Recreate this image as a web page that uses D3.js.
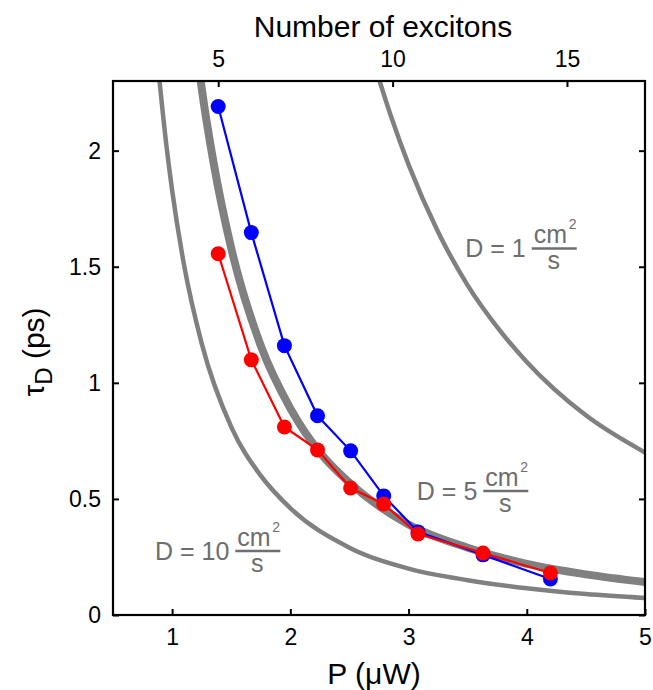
<!DOCTYPE html>
<html>
<head>
<meta charset="utf-8" />
<title>tau_D vs P</title>
<script src="https://d3js.org/d3.v7.min.js"></script>
<style>
  body { margin: 0; background: #fff; }
  svg text { font-family: "Liberation Sans", Arial, Helvetica, sans-serif; }
</style>
</head>
<body>
<script type="text/javascript">
// measured points (P in uW, tau_D in ps)
var powerP = [1.39, 1.67, 1.95, 2.23, 2.51, 2.79, 3.08, 3.63, 4.2];
var tauBlue = [2.19, 1.647, 1.16, 0.858, 0.707, 0.513, 0.358, 0.259, 0.155];
var tauRed = [1.556, 1.099, 0.81, 0.711, 0.547, 0.478, 0.349, 0.267, 0.181];

// gray diffusion curves
var curveP10 = [0.87, 0.95, 1.0, 1.1, 1.25, 1.5, 1.75, 2.0, 2.5, 3.0, 3.5, 4.0, 4.5, 5.0];
var curveT10 = [2.42, 2.03, 1.83, 1.51, 1.17, 0.81, 0.6, 0.46, 0.29, 0.2, 0.15, 0.115, 0.09, 0.073];
var curveP5 = [1.2, 1.25, 1.35, 1.5, 1.75, 2.0, 2.25, 2.5, 3.0, 3.5, 4.0, 4.5, 5.0];
var curveT5 = [2.47, 2.27, 1.95, 1.58, 1.16, 0.89, 0.7, 0.57, 0.39, 0.29, 0.22, 0.175, 0.142];
var curveP1 = [2.7, 2.85, 3.0, 3.25, 3.5, 3.75, 4.0, 4.5, 5.0];
var curveT1 = [2.39, 2.15, 1.94, 1.65, 1.42, 1.24, 1.09, 0.86, 0.7];

var xTicks = [1, 2, 3, 4, 5];
var yTicks = [0, 0.5, 1, 1.5, 2];
var excitonTicks = [5, 10, 15];
var labelD = ['1', '5', '10'];

var width = 653, height = 690;
var mLeft = 113, mRight = 645, mTop = 81, mBottom = 615;
var gray = '#808080';

var svg = d3.select('body').append('svg')
    .attr('width', width)
    .attr('height', height);

var x = d3.scaleLinear().domain([0.5, 5]).range([mLeft, mRight]);
var y = d3.scaleLinear().domain([0, 2.3]).range([mBottom, mTop]);
// number of excitons mapped onto the P axis
var xTop = d3.scaleLinear().domain([5, 15]).range([x(1.39), x(4.34)]);

svg.append('clipPath').attr('id', 'plot')
    .append('rect')
    .attr('x', mLeft).attr('y', mTop)
    .attr('width', mRight - mLeft).attr('height', mBottom - mTop);

var g = svg.append('g').attr('clip-path', 'url(#plot)');

var line = d3.line()
    .x(function (d) { return x(d[0]); })
    .y(function (d) { return y(d[1]); });

var smooth = d3.line()
    .x(function (d) { return x(d[0]); })
    .y(function (d) { return y(d[1]); })
    .curve(d3.curveMonotoneX);

var curves = [
    { p: curveP10, t: curveT10, w: 4.5 },
    { p: curveP5, t: curveT5, w: 8 },
    { p: curveP1, t: curveT1, w: 4.5 }
];
curves.forEach(function (c) {
    g.append('path')
        .attr('d', smooth(d3.zip(c.p, c.t)))
        .attr('fill', 'none')
        .attr('stroke', gray)
        .attr('stroke-width', c.w);
});

var series = [
    { t: tauBlue, color: '#0000ff' },
    { t: tauRed, color: '#ff0000' }
];
series.forEach(function (s) {
    var pts = d3.zip(powerP, s.t);
    g.append('path')
        .attr('d', line(pts))
        .attr('fill', 'none')
        .attr('stroke', s.color)
        .attr('stroke-width', 2.2);
    g.selectAll(null)
        .data(pts)
        .enter()
        .append('circle')
        .attr('cx', function (d) { return x(d[0]); })
        .attr('cy', function (d) { return y(d[1]); })
        .attr('r', 7.5)
        .attr('fill', s.color);
});

// axes, ticks pointing inward
var fmt = d3.format('~g');
var axisBottom = d3.axisBottom(x).tickValues(xTicks).tickSizeInner(-6).tickSizeOuter(0).tickPadding(14).tickFormat(fmt);
var axisLeft = d3.axisLeft(y).tickValues(yTicks).tickSizeInner(-6).tickSizeOuter(0).tickPadding(12).tickFormat(fmt);
var axisRight = d3.axisRight(y).tickValues(yTicks).tickSizeInner(-6).tickSizeOuter(0).tickFormat('');
var axisTop = d3.axisTop(xTop).tickValues(excitonTicks).tickSizeInner(-6).tickSizeOuter(0).tickPadding(14).tickFormat(fmt);

svg.append('g').attr('transform', 'translate(0,' + mBottom + ')').call(axisBottom);
svg.append('g').attr('transform', 'translate(' + mLeft + ',0)').call(axisLeft);
svg.append('g').attr('transform', 'translate(' + mRight + ',0)').call(axisRight);
svg.append('g').attr('transform', 'translate(0,' + mTop + ')').call(axisTop);

svg.selectAll('.domain').remove();
svg.selectAll('.tick line').attr('stroke', '#000').attr('stroke-width', 2);
svg.selectAll('.tick text').attr('font-size', 23).attr('fill', '#000')
    .style('font-family', '"Liberation Sans", Arial, sans-serif');

svg.append('rect')
    .attr('x', mLeft).attr('y', mTop)
    .attr('width', mRight - mLeft).attr('height', mBottom - mTop)
    .attr('fill', 'none')
    .attr('stroke', '#000')
    .attr('stroke-width', 2.2);

// titles
svg.append('text')
    .attr('x', (mLeft + mRight) / 2 - 5).attr('y', 684)
    .attr('text-anchor', 'middle')
    .attr('font-size', 30)
    .text('P (μW)');

svg.append('text')
    .attr('x', 383).attr('y', 37)
    .attr('text-anchor', 'middle')
    .attr('font-size', 30)
    .text('Number of excitons');

var yl = svg.append('text')
    .attr('transform', 'translate(44,352) rotate(-90)')
    .attr('text-anchor', 'middle')
    .attr('font-size', 30);
yl.append('tspan').text('τ');
yl.append('tspan').attr('dy', 8).attr('font-size', 24).text('D');
yl.append('tspan').attr('dy', -8).text(' (ps)');

// D labels with cm^2/s fraction
var labelPos = [[3.48, 1.54], [3.07, 0.495], [0.855, 0.237]];
labelD.forEach(function (d, i) {
    var lg = svg.append('g')
        .attr('transform', 'translate(' + x(labelPos[i][0]) + ',' + y(labelPos[i][1]) + ')')
        .attr('fill', '#6e6e6e');
    var t = lg.append('text')
        .attr('font-size', 25)
        .text('D = ' + d);
    var w = t.node().getComputedTextLength() + 6;
    lg.append('line')
        .attr('x1', w).attr('x2', w + 45)
        .attr('y1', -9).attr('y2', -9)
        .attr('stroke', '#6e6e6e')
        .attr('stroke-width', 2.5);
    lg.append('text')
        .attr('x', w + 2).attr('y', -14)
        .attr('font-size', 25)
        .text('cm');
    lg.append('text')
        .attr('x', w + 37).attr('y', -28)
        .attr('font-size', 14)
        .text('2');
    lg.append('text')
        .attr('x', w + 22).attr('y', 12)
        .attr('text-anchor', 'middle')
        .attr('font-size', 25)
        .text('s');
});
</script>
</body>
</html>
